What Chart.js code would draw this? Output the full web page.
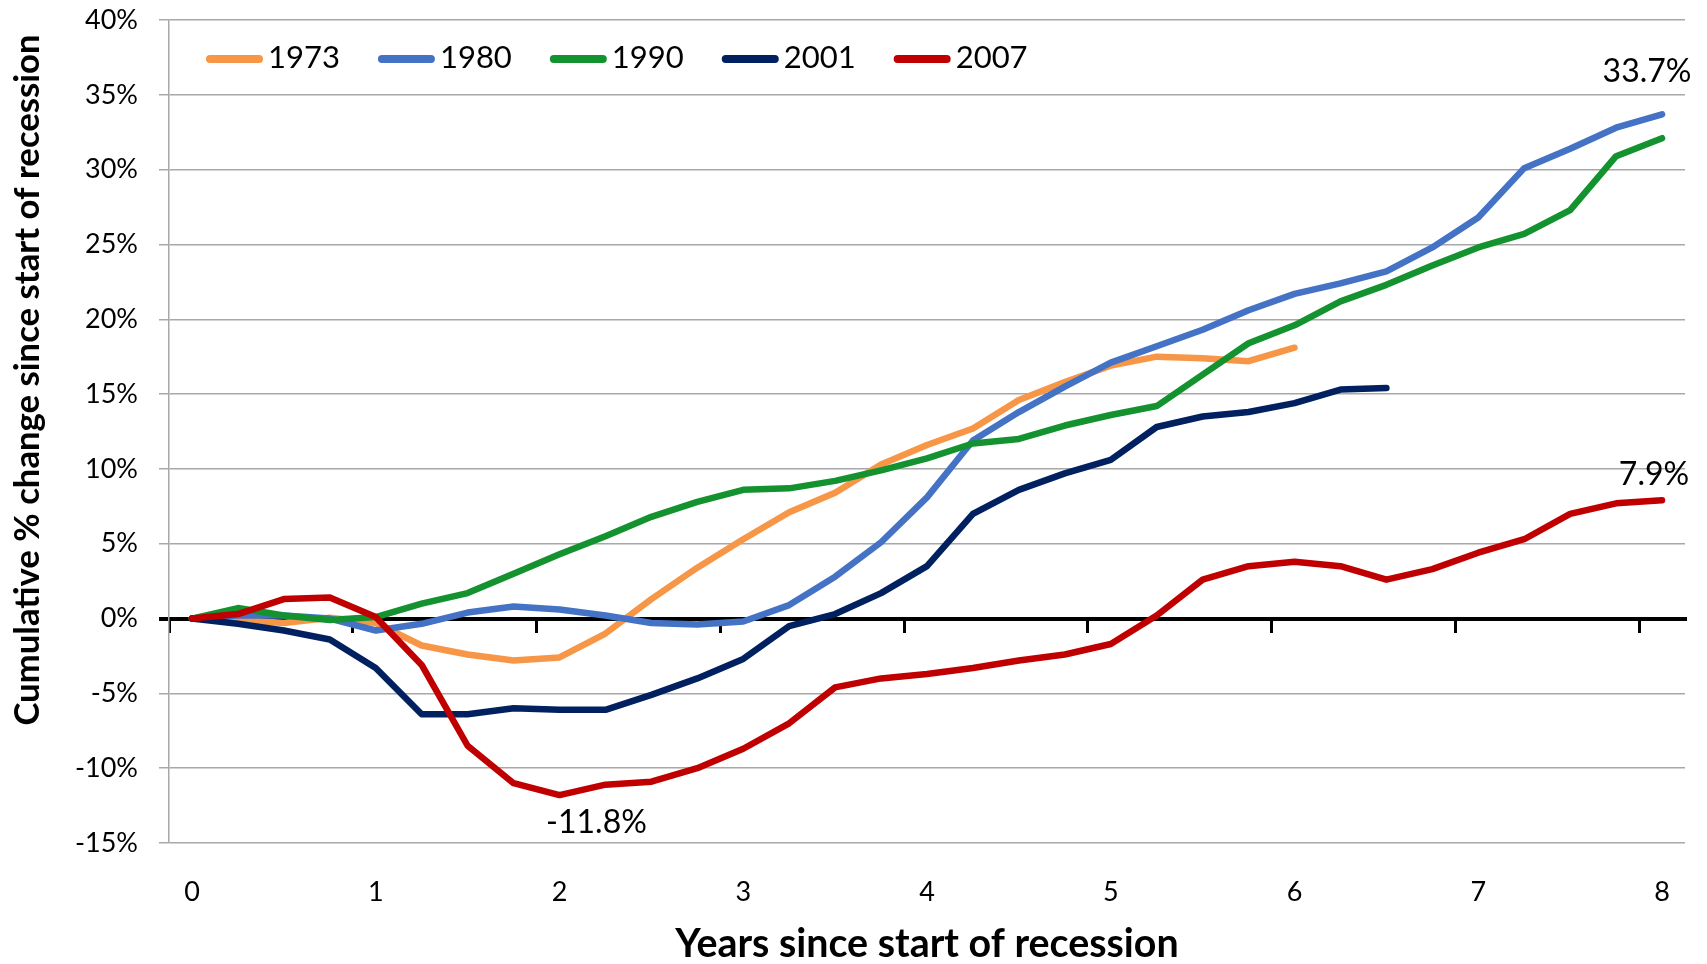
<!DOCTYPE html>
<html>
<head>
<meta charset="utf-8">
<script src="https://cdn.jsdelivr.net/npm/chart.js@4.4.1/dist/chart.umd.min.js"></script>
<style>
  html, body { margin: 0; padding: 0; background: #fff; }
  #wrap { width: 1707px; height: 964px; position: relative; }
</style>
</head>
<body>
<div id="wrap"><canvas id="chart"></canvas></div>
<script>
// quarters since start of recession
const years = [0, 0.25, 0.5, 0.75, 1, 1.25, 1.5, 1.75, 2, 2.25, 2.5, 2.75, 3, 3.25, 3.5, 3.75, 4,
  4.25, 4.5, 4.75, 5, 5.25, 5.5, 5.75, 6, 6.25, 6.5, 6.75, 7, 7.25, 7.5, 7.75, 8]

const series1973 = [0, -0.1, -0.3, 0.05, -0.3, -1.8, -2.4, -2.8, -2.6, -1.0, 1.3, 3.4, 5.3, 7.1, 8.4, 10.3, 11.6,
  12.7, 14.6, 15.8, 16.9, 17.5, 17.4, 17.2, 18.1]
const series1980 = [0, 0.2, 0.2, 0.0, -0.8, -0.35, 0.4, 0.8, 0.6, 0.2, -0.3, -0.4, -0.2, 0.9, 2.8, 5.1, 8.1,
  11.9, 13.8, 15.5, 17.1, 18.2, 19.3, 20.6, 21.7, 22.4, 23.2, 24.8, 26.8, 30.1, 31.4, 32.8, 33.7]
const series1990 = [0, 0.7, 0.2, -0.1, 0.1, 1.0, 1.7, 3.0, 4.3, 5.5, 6.8, 7.8, 8.6, 8.7, 9.2, 9.9, 10.7,
  11.7, 12.0, 12.9, 13.6, 14.2, 16.3, 18.4, 19.6, 21.2, 22.3, 23.6, 24.8, 25.7, 27.3, 30.9, 32.1]
const series2001 = [0, -0.35, -0.8, -1.4, -3.3, -6.4, -6.4, -6.0, -6.1, -6.1, -5.1, -4.0, -2.7, -0.5, 0.3, 1.7, 3.5,
  7.0, 8.6, 9.7, 10.6, 12.8, 13.5, 13.8, 14.4, 15.3, 15.4]
const series2007 = [0, 0.3, 1.3, 1.4, 0.1, -3.1, -8.5, -11.0, -11.8, -11.1, -10.9, -10.0, -8.7, -7.0, -4.6, -4.0, -3.7,
  -3.3, -2.8, -2.4, -1.7, 0.2, 2.6, 3.5, 3.8, 3.5, 2.6, 3.3, 4.4, 5.3, 7.0, 7.7, 7.9]

const seriesNames = ['1973', '1980', '1990', '2001', '2007']
const seriesValues = [series1973, series1980, series1990, series2001, series2007]
const seriesColors = ['#F79646', '#4472C4', '#14922F', '#002060', '#C00000']

const xTickLabels = [0, 1, 2, 3, 4, 5, 6, 7, 8]
const yTickLabels = [-15, -10, -5, 0, 5, 10, 15, 20, 25, 30, 35, 40]

// labelled points: series, quarter index, offset of the text from the point
const pointLabels = [
  { series: '1980', index: 32, dx: -15, dy: -43 },
  { series: '2007', index: 32, dx: -8, dy: -26 },
  { series: '2007', index: 8, dx: 37, dy: 28 }
]

const FONT = 'Lato, "Open Sans", sans-serif'
const halfQuarter = 0.125

const extras = {
  id: 'extras',
  afterDatasetsDraw (chart) {
    const { ctx } = chart
    ctx.save()
    ctx.font = '32px ' + FONT
    ctx.fillStyle = '#000'
    ctx.textAlign = 'center'
    ctx.textBaseline = 'middle'
    for (const l of pointLabels) {
      const i = seriesNames.indexOf(l.series)
      const pt = chart.getDatasetMeta(i).data[l.index]
      const v = chart.data.datasets[i].data[l.index].y
      ctx.fillText(v.toFixed(1) + '%', pt.x + l.dx, pt.y + l.dy)
    }
    ctx.restore()
  },
  afterDraw (chart) {
    const { ctx, chartArea } = chart
    ctx.save()
    // legend, inside the plot
    let x = chartArea.left + 41
    const y = chartArea.top + 39
    ctx.font = '31px ' + FONT
    ctx.textAlign = 'left'
    ctx.textBaseline = 'middle'
    chart.data.datasets.forEach(ds => {
      ctx.strokeStyle = ds.borderColor
      ctx.lineWidth = 8
      ctx.lineCap = 'round'
      ctx.beginPath()
      ctx.moveTo(x, y)
      ctx.lineTo(x + 49, y)
      ctx.stroke()
      ctx.fillStyle = '#000'
      ctx.fillText(ds.label, x + 58, y - 1)
      x += 58 + ctx.measureText(ds.label).width + 42
    })
    // y axis title
    ctx.translate(28, chartArea.top + 360)
    ctx.rotate(-Math.PI / 2)
    ctx.font = 'bold 34.7px ' + FONT
    ctx.textAlign = 'center'
    ctx.fillText('Cumulative % change since start of recession', 0, 0)
    ctx.restore()
  }
}

new Chart(document.getElementById('chart'), {
  type: 'line',
  data: {
    datasets: seriesNames.map((name, i) => ({
      label: name,
      data: seriesValues[i].map((v, j) => ({ x: years[j], y: v })),
      borderColor: seriesColors[i],
      backgroundColor: seriesColors[i],
      borderWidth: 6.5,
      borderCapStyle: 'round',
      borderJoinStyle: 'round',
      pointRadius: 0,
      tension: 0,
      fill: false,
      order: seriesNames.length - i
    }))
  },
  options: {
    responsive: true,
    maintainAspectRatio: false,
    animation: false,
    devicePixelRatio: 1,
    layout: { padding: { top: 20, right: 22, bottom: 0, left: 0 } },
    plugins: {
      legend: { display: false },
      tooltip: { enabled: false }
    },
    scales: {
      x: {
        type: 'linear',
        min: years[0] - halfQuarter,
        max: years[years.length - 1] + halfQuarter,
        afterBuildTicks: s => { s.ticks = xTickLabels.map(v => ({ value: v })) },
        afterFit: s => { s.height = 121 },
        grid: { display: false, drawTicks: false },
        border: { display: false },
        ticks: { color: '#000', font: { family: FONT, size: 27 }, padding: 33, maxRotation: 0 },
        title: {
          display: true,
          text: 'Years since start of recession',
          color: '#000',
          font: { family: FONT, size: 39.4, weight: 'bold', lineHeight: 1 },
          padding: 0
        }
      },
      // axis line at 0% with its tick marks
      x2: {
        type: 'linear',
        position: { y: 0 },
        min: years[0] - halfQuarter,
        max: years[years.length - 1] + halfQuarter,
        afterBuildTicks: s => { s.ticks = xTickLabels.map(v => ({ value: v - halfQuarter })) },
        grid: { drawOnChartArea: false, drawTicks: true, tickLength: 12, color: '#000', lineWidth: 3 },
        border: { display: true, color: '#000', width: 4 },
        ticks: { display: false }
      },
      y: {
        type: 'linear',
        min: yTickLabels[0],
        max: yTickLabels[yTickLabels.length - 1],
        afterBuildTicks: s => { s.ticks = yTickLabels.map(v => ({ value: v })) },
        afterFit: s => {
          s.width = 169
          s.paddingTop = 0
          s.paddingBottom = 0
        },
        grid: {
          color: c => (c.tick && c.tick.value === 0) ? '#000' : '#a8a8a8',
          lineWidth: c => (c.tick && c.tick.value === 0) ? 4 : 1.5,
          tickLength: 10,
          drawTicks: true
        },
        border: { display: true, color: '#a8a8a8', width: 1.5 },
        ticks: {
          color: '#000',
          font: { family: FONT, size: 27 },
          padding: 21,
          callback: v => v + '%'
        }
      }
    }
  },
  plugins: [extras]
})
</script>
</body>
</html>
